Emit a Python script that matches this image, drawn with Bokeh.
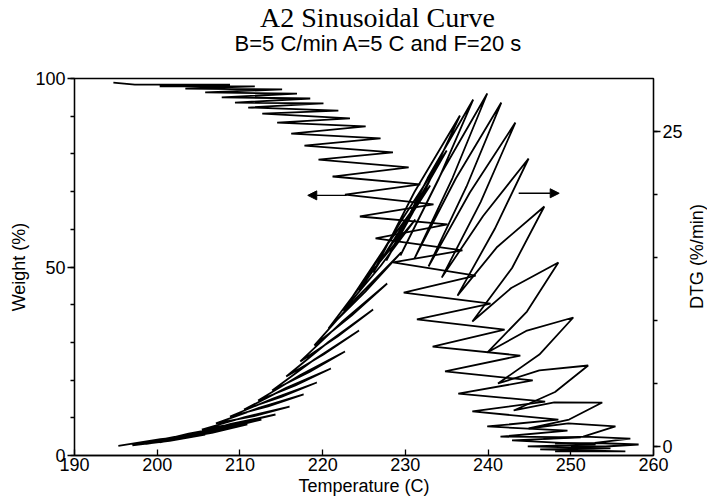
import math
from bokeh.plotting import figure
from bokeh.layouts import row, column
from bokeh.models import Range1d, LinearAxis, FixedTicker, Arrow, NormalHead, Label
from bokeh.embed import file_html
from bokeh.resources import INLINE

# ---------------- data ----------------
# Weight (%) vs temperature (C): zig-zag path through left and right tips of each modulation cycle
weight_T = [194.7, 197.3, 208.8, 200.3, 211.8, 203.4, 215.1, 205.8, 216.9, 207.8,
            218.5, 209.4, 220.1, 211.0, 221.9, 212.7, 223.3, 214.5, 225.2, 216.2,
            227.0, 217.8, 228.5, 219.5, 230.4, 221.2, 231.8, 222.7, 233.4, 224.5,
            235.1, 226.4, 236.9, 228.5, 238.5, 229.8, 240.3, 231.4, 242.0, 233.3,
            243.9, 234.8, 245.4, 236.4, 246.9, 238.1, 248.5, 239.9, 249.6, 241.5,
            251.2, 242.9, 253.0, 244.8, 254.8, 246.3, 256.6, 248.1]
weight_W = [98.9, 98.4, 98.4, 97.9, 97.9, 97.3, 97.1, 96.3, 96.0, 95.0,
            94.7, 93.6, 93.4, 92.3, 91.5, 90.7, 89.4, 88.3, 87.3, 85.4,
            84.1, 82.2, 80.4, 78.5, 76.4, 74.0, 71.9, 69.2, 66.6, 63.4,
            61.3, 57.6, 54.4, 51.2, 47.7, 43.2, 40.3, 36.1, 33.4, 28.9,
            26.5, 22.3, 19.9, 16.4, 14.3, 11.7, 9.5, 7.7, 6.6, 5.0,
            4.8, 4.0, 2.9, 2.4, 1.9, 1.6, 1.1, 1.1]

# DTG (%/min) loops: low end, rising-side middle, tip, falling-side middle of every cycle
dtg_low_T = [195.3, 197.0, 198.7, 200.3, 202.0, 203.7, 205.4, 207.1, 208.8, 210.5,
             212.2, 213.9, 215.6, 217.3, 219.0, 220.7, 222.5, 224.4, 226.1, 227.7,
             229.4, 231.1, 232.8, 234.4, 236.3, 238.1, 239.9, 241.2, 243.1, 244.9,
             246.7, 248.1, 250.0]
dtg_low_D = [0.05, 0.1, 0.2, 0.32, 0.56, 0.87, 1.35, 1.83, 2.38, 2.94,
             3.65, 4.44, 5.56, 6.75, 8.02, 9.37, 10.79, 12.38, 13.81, 14.76,
             15.16, 14.92, 14.29, 13.41, 11.98, 9.92, 7.46, 5.0, 2.86, 1.43,
             0.63, 0.24, 0.0]
dtg_up_T = [200.4, 202.1, 203.8, 205.5, 207.2, 208.9, 210.6, 212.3, 214.0, 215.6,
            217.3, 219.0, 220.7, 222.4, 224.1, 225.8, 227.6, 229.6, 231.1, 232.7,
            234.4, 236.1, 237.8, 239.4, 241.1, 242.8, 244.6, 246.2, 248.0, 249.7,
            251.7, 253.0]
dtg_up_D = [0.58, 0.77, 1.02, 1.12, 1.43, 1.79, 2.34, 3.06, 3.81, 4.65,
            5.68, 6.9, 8.3, 9.93, 11.79, 13.78, 15.83, 18.02, 20.2, 21.31,
            21.75, 21.27, 20.16, 18.3, 15.84, 12.58, 9.17, 6.04, 3.5, 1.83,
            0.79, 0.28]
dtg_tip_T = [205.8, 207.5, 209.2, 210.9, 212.6, 214.3, 216.0, 217.7, 219.3, 221.0,
             222.7, 224.4, 226.1, 227.8, 229.5, 231.2, 233.0, 235.0, 236.6, 238.2,
             239.9, 241.6, 243.3, 244.9, 246.8, 248.5, 250.3, 252.1, 253.8, 255.4,
             257.2, 258.2]
dtg_tip_D = [0.95, 1.27, 1.67, 1.75, 2.14, 2.54, 3.17, 4.13, 5.08, 6.19,
             7.54, 9.21, 10.87, 12.94, 15.40, 18.02, 20.71, 23.49, 26.27, 27.54,
             28.02, 27.30, 25.71, 22.86, 19.05, 14.60, 10.24, 6.43, 3.49, 1.59,
             0.63, 0.16]
dtg_dn_T = [201.5, 203.2, 204.9, 206.6, 208.3, 210.0, 211.7, 213.4, 215.0, 216.7,
            218.4, 220.1, 221.8, 223.5, 225.2, 227.0, 228.8, 230.7, 232.4, 234.0,
            235.7, 237.4, 239.1, 240.8, 242.9, 244.7, 246.2, 248.1, 249.8, 251.5,
            252.9, 254.2]
dtg_dn_D = [0.45, 0.66, 0.92, 1.08, 1.43, 1.87, 2.42, 3.18, 3.93, 4.84,
            5.91, 7.31, 8.73, 10.4, 12.31, 14.33, 16.47, 18.57, 20.36, 21.19,
            21.31, 20.64, 19.4, 17.26, 14.17, 10.71, 7.3, 4.33, 2.14, 0.79,
            0.28, 0.0]

# axis ticks
x_ticks = [190, 200, 210, 220, 230, 240, 250, 260]
w_ticks = [0, 50, 100]
w_minor = [0, 10, 20, 30, 40, 50, 60, 70, 80, 90, 100]
d_ticks = [0, 25]
d_minor = [0, 5, 10, 15, 20, 25]

# arrows: (x_start, x_end, y)
arrow_weight = (222.9, 218.2, 69.0)
arrow_dtg = (243.7, 248.6, 20.1)

# texts
title_1 = "A2 Sinusoidal Curve"
title_2 = "B=5 C/min A=5 C and F=20 s"
x_label = "Temperature (C)"
w_label = "Weight (%)"
d_label = "DTG (%/min)"

# ---------------- build DTG path from the loop arrays ----------------
dtg_T, dtg_D = [], []
for k in range(len(dtg_tip_T)):
    dtg_T += [dtg_low_T[k], dtg_up_T[k], dtg_tip_T[k], dtg_dn_T[k]]
    dtg_D += [dtg_low_D[k], dtg_up_D[k], dtg_tip_D[k], dtg_dn_D[k]]
dtg_T.append(dtg_low_T[-1])
dtg_D.append(dtg_low_D[-1])

SANS = "Liberation Sans"
SERIF = "Liberation Serif"


def strip(w, h):
    """An empty figure whose frame covers the whole canvas, used to hold margin texts."""
    s = figure(width=w, height=h, x_range=Range1d(0, w), y_range=Range1d(0, h),
               output_backend="svg", toolbar_location=None, title=None,
               x_axis_location=None, y_axis_location=None,
               min_border=0, min_border_left=0, min_border_right=0,
               min_border_top=0, min_border_bottom=0,
               background_fill_color="white", border_fill_color="white")
    s.outline_line_color = None
    s.xgrid.visible = False
    s.ygrid.visible = False
    return s


def label(fig, x, y, text, font, size, angle=0.0):
    fig.add_layout(Label(x=x, y=y, text=text, text_font=font, text_font_size=size,
                         text_color="black", text_align="center", text_baseline="middle",
                         angle=angle))


# ---------------- main chart ----------------
TOP_H = 64
p = figure(frame_width=579, frame_height=377,
           x_range=Range1d(190, 260), y_range=Range1d(0, 100),
           output_backend="svg", toolbar_location=None, title=None,
           min_border_left=74, min_border_top=14, min_border_right=31, min_border_bottom=45,
           background_fill_color="white", border_fill_color="white")
p.extra_y_ranges = {"dtg": Range1d(-0.714, 29.21)}

p.xgrid.visible = False
p.ygrid.visible = False
p.outline_line_color = "black"
p.outline_line_width = 1.3

xa = p.xaxis[0]
xa.ticker = FixedTicker(ticks=x_ticks)
xa.major_tick_in = 6
xa.major_tick_out = 0
xa.minor_tick_in = 0
xa.minor_tick_out = 0
xa.axis_label = x_label
xa.major_label_standoff = 2
xa.axis_label_standoff = 2

ya = p.yaxis[0]
ya.ticker = FixedTicker(ticks=w_ticks, minor_ticks=w_minor)
ya.major_tick_in = 0
ya.major_tick_out = 7
ya.minor_tick_in = 0
ya.minor_tick_out = 4
ya.axis_label = w_label
ya.major_label_standoff = 2
ya.axis_label_standoff = 3

ra = LinearAxis(y_range_name="dtg", ticker=FixedTicker(ticks=d_ticks, minor_ticks=d_minor))
ra.major_tick_in = 0
ra.major_tick_out = 7
ra.minor_tick_in = 0
ra.minor_tick_out = 4
ra.major_label_standoff = 2
p.add_layout(ra, "right")

for ax in [xa, ya, ra]:
    ax.axis_line_color = "black"
    ax.axis_line_width = 1.3
    ax.major_tick_line_color = "black"
    ax.major_tick_line_width = 1.3
    ax.minor_tick_line_color = "black"
    ax.minor_tick_line_width = 1.3
    ax.major_label_text_font = SANS
    ax.major_label_text_font_size = "18px"
    ax.major_label_text_color = "black"
    ax.axis_label_text_font = SANS
    ax.axis_label_text_font_size = "18px"
    ax.axis_label_text_font_style = "normal"
    ax.axis_label_text_color = "black"

p.line(weight_T, weight_W, line_color="black", line_width=1.8)
p.line(dtg_T, dtg_D, line_color="black", line_width=1.8, y_range_name="dtg")

p.add_layout(Arrow(end=NormalHead(size=9, fill_color="black", line_color="black"),
                   x_start=arrow_weight[0], x_end=arrow_weight[1],
                   y_start=arrow_weight[2], y_end=arrow_weight[2],
                   line_color="black", line_width=1.4))
p.add_layout(Arrow(end=NormalHead(size=9, fill_color="black", line_color="black"),
                   x_start=arrow_dtg[0], x_end=arrow_dtg[1],
                   y_start=arrow_dtg[2], y_end=arrow_dtg[2],
                   y_range_name="dtg", line_color="black", line_width=1.4))

MAIN_W = 74 + 579 + 31
MAIN_H = 14 + 377 + 45

# ---------------- title strip on top ----------------
top = strip(MAIN_W + 22, TOP_H)
label(top, 377, TOP_H - 17, title_1, SERIF, "28px")
label(top, 378, TOP_H - 43, title_2, SANS, "22px")

# ---------------- strip on the right with the DTG axis title (reads bottom to top) ----------------
side = strip(22, MAIN_H)
label(side, 11, MAIN_H - (270 - TOP_H), d_label, SANS, "18px", math.pi / 2)

layout = column(top, row(p, side))
open("out.html", "w").write(file_html(layout, INLINE))
